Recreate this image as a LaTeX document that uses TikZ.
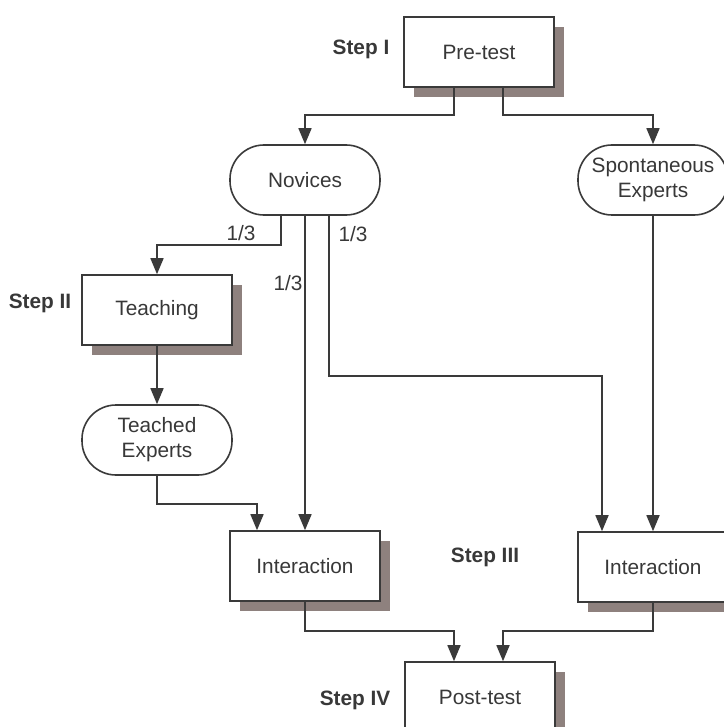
\documentclass[tikz,border=0pt]{standalone}
\usepackage{fontspec}
\setmainfont{Liberation Sans}
\usetikzlibrary{arrows.meta,shadows}
\definecolor{shadowgray}{HTML}{8E817E}
\definecolor{linegray}{HTML}{3A3A3A}
\definecolor{textgray}{HTML}{383838}
\begin{document}
\begin{tikzpicture}[x=0.5pt,y=-0.5pt,
  every node/.style={font=\fontsize{10.4}{12.5}\selectfont, text=textgray},
  blk/.style={rectangle, draw=linegray, line width=0.8pt, fill=white, minimum width=75pt, minimum height=35pt,
    drop shadow={shadow xshift=5pt, shadow yshift=-5pt, fill=shadowgray, opacity=1}},
  rnd/.style={rectangle, rounded corners=17pt, draw=linegray, line width=0.8pt, fill=white, minimum width=75pt, minimum height=35pt, align=center, inner sep=1pt},
  conn/.style={draw=linegray, line width=0.8pt, -{Triangle[length=8pt,width=6.5pt]}},
  stage/.style={font=\fontsize{10.4}{12.5}\selectfont\bfseries}]
  \useasboundingbox (0,0) rectangle (723,727);
  % Nodes
  \node (pre) [blk] at (479,52) {Pre-test};
  \node (nov) [rnd] at (305,180) {Novices};
  \node (spon) [rnd] at (653,180) {Spontaneous\\Experts};
  \node (teach) [blk] at (157,310) {Teaching};
  \node (teached) [rnd] at (157,440) {Teached\\Experts};
  \node (int1) [blk] at (305,566) {Interaction};
  \node (int2) [blk] at (653,567) {Interaction};
  \node (post) [blk] at (480,697) {Post-test};
  % Step labels
  \node (s1) [stage] at (361,49) {Step I};
  \node (s2) [stage] at (40,303) {Step II};
  \node (s3) [stage] at (485,557) {Step III};
  \node (s4) [stage] at (355,700) {Step IV};
  % Arrows
  \draw[conn] ([xshift=-12.5pt]pre.south) -- ++(0,27) -| (nov.north);
  \draw[conn] ([xshift=12pt]pre.south) -- ++(0,27) -| (spon.north);
  \draw[conn] ([xshift=-12pt]nov.south) -- ++(0,29) -| (teach.north);
  \draw[conn] (nov.south) -- (int1.north);
  \draw[conn] ([xshift=12pt]nov.south) -- ++(0,160) -| ([xshift=-25.5pt]int2.north);
  \draw[conn] (teach.south) -- (teached.north);
  \draw[conn] (teached.south) -- ++(0,28) -| ([xshift=-24pt]int1.north);
  \draw[conn] (spon.south) -- (int2.north);
  \draw[conn] (int1.south) -- ++(0,29) -| ([xshift=-13pt]post.north);
  \draw[conn] (int2.south) -- ++(0,28) -| ([xshift=11.5pt]post.north);
  % Fractions
  \node (f1) at (241,233) {1/3};
  \node (f2) at (288,283) {1/3};
  \node (f3) at (353,234) {1/3};
\end{tikzpicture}
\end{document}
